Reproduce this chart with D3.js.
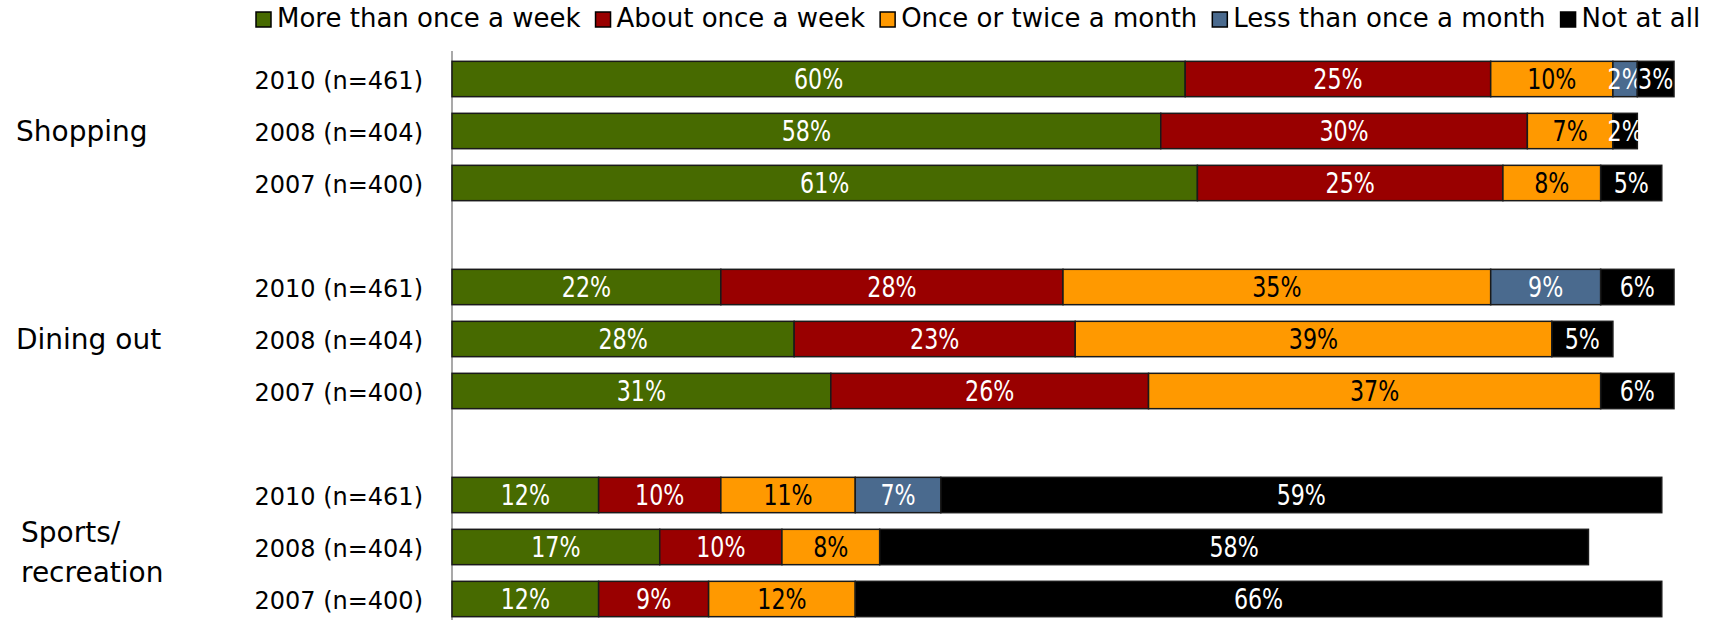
<!DOCTYPE html>
<html>
<head>
<meta charset="utf-8">
<script src="https://d3js.org/d3.v7.min.js"></script>
<style>
  html, body { margin: 0; padding: 0; background: white; }
  svg { display: block; }
</style>
</head>
<body>
<div id="chart"></div>
<script>
// categories
const groups = ["Shopping", "Dining out", "Sports/recreation"];
const years = ["2010 (n=461)", "2008 (n=404)", "2007 (n=400)"];
const seriesNames = ["More than once a week", "About once a week", "Once or twice a month", "Less than once a month", "Not at all"];
const seriesColors = ["#476a00", "#990000", "#ff9900", "#4a6a8e", "#000000"];

// values per series, in row order: Shopping 2010/2008/2007, Dining out ..., Sports ...
const moreThanOnceAWeek  = [60, 58, 61, 22, 28, 31, 12, 17, 12];
const aboutOnceAWeek     = [25, 30, 25, 28, 23, 26, 10, 10, 9];
const onceOrTwiceAMonth  = [10, 7, 8, 35, 39, 37, 11, 8, 12];
const lessThanOnceAMonth = [2, 0, 0, 9, 0, 0, 7, 0, 0];
const notAtAll           = [3, 2, 5, 6, 5, 6, 59, 58, 66];

const seriesValues = [moreThanOnceAWeek, aboutOnceAWeek, onceOrTwiceAMonth, lessThanOnceAMonth, notAtAll];

const W = 1721, H = 620;
const labelFont = "'DejaVu Sans', sans-serif";
const valueFont = "'DejaVu Sans Condensed', 'DejaVu Sans', sans-serif";

// build rows (with a blank spacer row between groups)
const rows = [];
const rowKeys = [];
groups.forEach((g, gi) => {
  years.forEach((yr, yi) => {
    const r = { key: g + "|" + yr, group: g, year: yr };
    seriesNames.forEach((s, si) => { r[s] = seriesValues[si][gi * 3 + yi]; });
    rows.push(r);
    rowKeys.push(r.key);
  });
  if (gi < groups.length - 1) rowKeys.push("gap" + gi);
});

const svg = d3.select("#chart").append("svg")
  .attr("width", W).attr("height", H);

const x = d3.scaleLinear().domain([0, 100]).range([452, 1674]);
const y = d3.scaleBand().domain(rowKeys).range([53, 625]).paddingInner(0.32).paddingOuter(0.16);

// axis line
svg.append("line")
  .attr("x1", x(0)).attr("x2", x(0))
  .attr("y1", 51).attr("y2", H)
  .attr("stroke", "#8c8c8c").attr("stroke-width", 1.5);

const stacked = d3.stack().keys(seriesNames)(rows);

const layer = svg.selectAll("g.layer")
  .data(stacked)
  .enter().append("g")
  .attr("class", "layer");

const segs = (d, i) => d.map(p => ({ p: p, i: i })).filter(o => o.p[1] - o.p[0] > 0);

layer.selectAll("rect")
  .data(segs)
  .enter().append("rect")
  .attr("x", d => x(d.p[0]))
  .attr("y", d => y(d.p.data.key))
  .attr("width", d => x(d.p[1]) - x(d.p[0]))
  .attr("height", y.bandwidth())
  .attr("fill", d => seriesColors[d.i])
  .attr("stroke", "#1a1a1a")
  .attr("stroke-width", 1.5);

// value labels - narrow, tall text like the original
layer.selectAll("text")
  .data(segs)
  .enter().append("text")
  .attr("transform", d => `translate(${(x(d.p[0]) + x(d.p[1])) / 2},${y(d.p.data.key) + y.bandwidth() / 2}) scale(0.85,1)`)
  .attr("dy", "0.36em")
  .attr("text-anchor", "middle")
  .style("font-family", valueFont)
  .style("font-size", "29px")
  .style("fill", d => d.i === 2 ? "#000" : "#fff")
  .text(d => (d.p[1] - d.p[0]) + "%");

// year labels
svg.selectAll("text.year")
  .data(rows)
  .enter().append("text")
  .attr("class", "year")
  .attr("x", 423)
  .attr("y", d => y(d.key) + y.bandwidth() / 2)
  .attr("dy", "0.4em")
  .attr("text-anchor", "end")
  .style("font-family", labelFont)
  .style("font-size", "24px")
  .text(d => d.year);

// group labels
groups.forEach((g) => {
  const mid = y(g + "|" + years[1]) + y.bandwidth() / 2;
  const cut = g.indexOf("/");
  const lines = cut >= 0 ? [g.slice(0, cut + 1), g.slice(cut + 1)] : [g];
  const t = svg.append("text")
    .attr("y", mid)
    .style("font-family", labelFont)
    .style("font-size", "28px");
  lines.forEach((l, li) => {
    t.append("tspan")
      .attr("x", lines.length === 1 ? 16 : 21)
      .attr("dy", lines.length === 1 ? "0.37em" : (li === 0 ? "-0.18em" : "1.43em"))
      .text(l);
  });
});

// legend
const legend = svg.append("g");
let lx = 256;
seriesNames.forEach((s, i) => {
  legend.append("rect")
    .attr("x", lx).attr("y", 12)
    .attr("width", 15).attr("height", 15)
    .attr("fill", seriesColors[i])
    .attr("stroke", "#000").attr("stroke-width", 1.5);
  const t = legend.append("text")
    .attr("x", lx + 21)
    .attr("y", 27)
    .style("font-family", labelFont)
    .style("font-size", "26px")
    .text(s);
  lx += 21 + t.node().getComputedTextLength() + 15;
});
</script>
</body>
</html>
